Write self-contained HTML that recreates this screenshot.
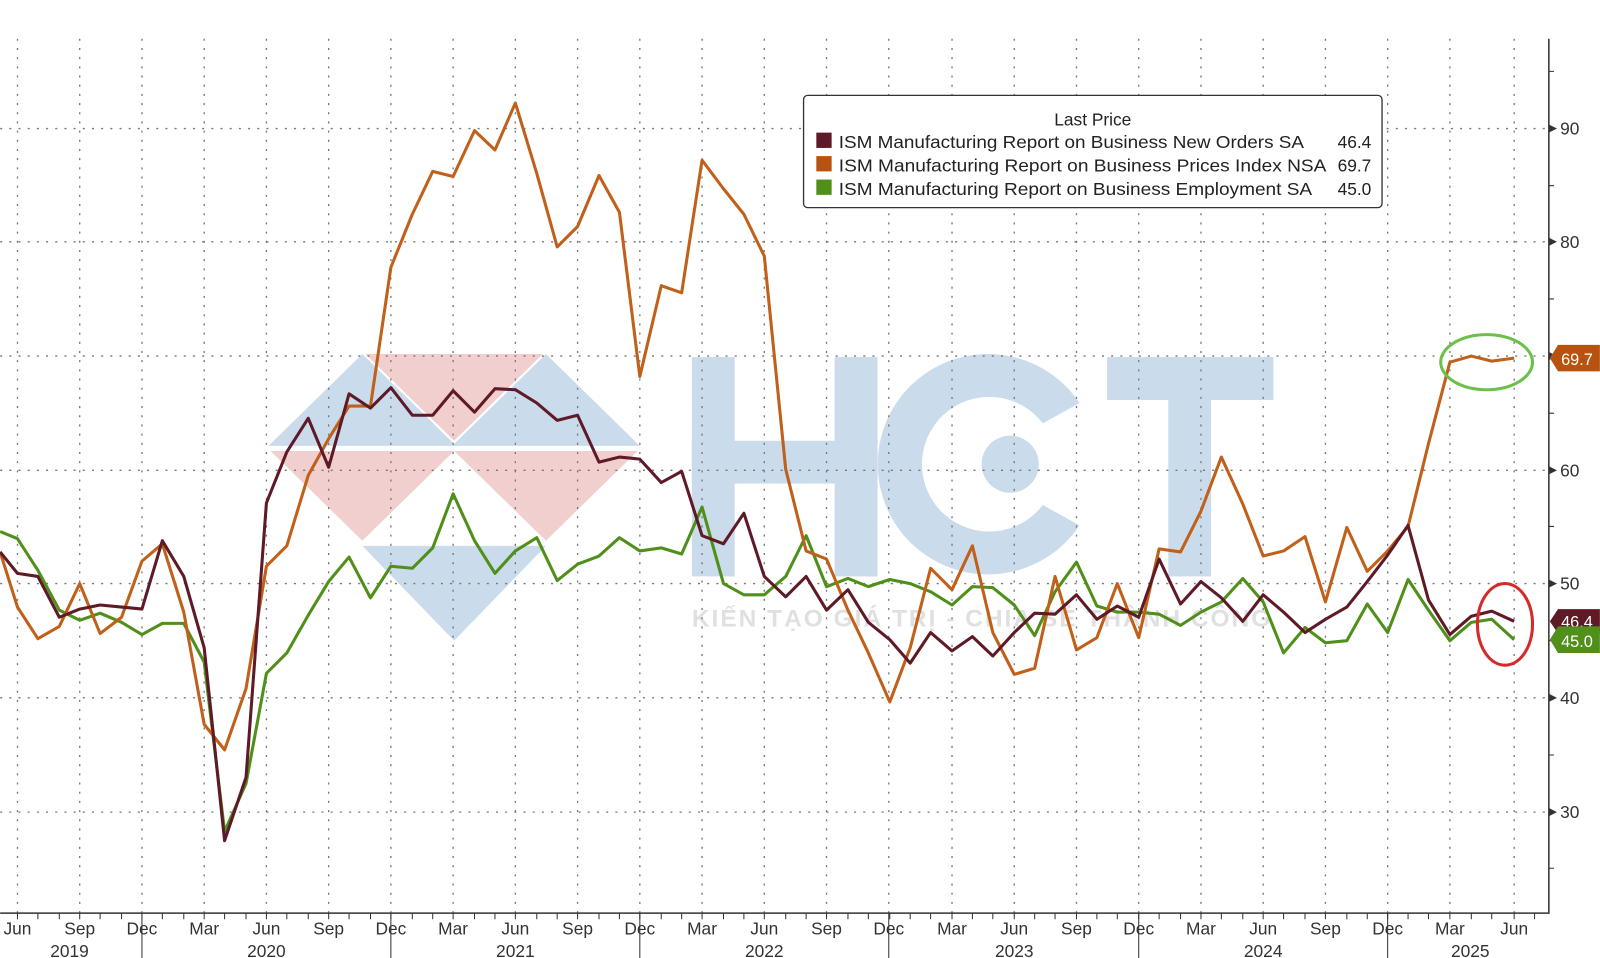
<!DOCTYPE html>
<html><head><meta charset="utf-8"><style>
html,body{margin:0;padding:0;background:#fff;width:1600px;height:958px;overflow:hidden}
svg{display:block}
text{font-family:"Liberation Sans","DejaVu Sans",sans-serif}
</style></head><body>
<svg width="1600" height="958" viewBox="0 0 1568 939" xmlns="http://www.w3.org/2000/svg">
<rect width="1568" height="939" fill="#fff"/>
<!-- watermark -->
<g opacity="0.55">
<polygon points="263,437 355,347 447,437" fill="#9fbedd"/>
<polygon points="443,437 535,347 627,437" fill="#9fbedd"/>
<polygon points="358,347 532,347 445,432" fill="#e9a9a9"/>
<polygon points="265,442 445,442 355,530" fill="#e9a9a9"/>
<polygon points="445,442 625,442 535,530" fill="#e9a9a9"/>
<polygon points="355,535 535,535 445,628" fill="#9fbedd"/>
<g fill="#9fbedd">
<rect x="678" y="350" width="42" height="215"/><rect x="818" y="350" width="42" height="215"/><rect x="678" y="432" width="182" height="42"/>
<path d="M1058,395 A108,108 0 1 0 1058,515 L1022,495 A66,66 0 1 1 1022,415 Z"/>
<circle cx="990" cy="455" r="28"/>
<rect x="1085" y="350" width="163" height="42"/><rect x="1145" y="350" width="42" height="215"/>
</g>
<text x="678" y="614" font-size="24" font-weight="bold" fill="#c8c8c8" textLength="567">KIẾN TẠO GIÁ TRỊ - CHIA SẺ THÀNH CÔNG</text>
</g>
<!-- grid -->
<g stroke="#777" stroke-width="1.3" stroke-dasharray="2,7" fill="none">
<path d="M0,126H1518M0,237H1518M0,349H1518M0,461H1518M0,572H1518M0,684H1518M0,796H1518"/>
<path d="M17,38V895M78,38V895M139,38V895M200,38V895M261,38V895M322,38V895M383,38V895M444,38V895M505,38V895M566,38V895M627,38V895M688,38V895M749,38V895M810,38V895M871,38V895M933,38V895M994,38V895M1055,38V895M1116,38V895M1177,38V895M1238,38V895M1299,38V895M1360,38V895M1421,38V895M1484,38V895"/>
</g>
<!-- axes -->
<g stroke="#333" stroke-width="1.5" fill="none">
<path d="M1518,38V895H0"/>
<path d="M139,895V939M383,895V939M627,895V939M871,895V939M1116,895V939M1360,895V939" stroke-width="1"/>
</g>
<g stroke="#333" stroke-width="1">
<path id="mt" d="M-3,895v6"/>
</g>
<path stroke="#333" stroke-width="1" d="M17,895v6M37,895v6M58,895v6M78,895v6M98,895v6M119,895v6M139,895v6M159,895v6M180,895v6M200,895v6M220,895v6M241,895v6M261,895v6M281,895v6M302,895v6M322,895v6M342,895v6M363,895v6M383,895v6M404,895v6M424,895v6M444,895v6M465,895v6M485,895v6M505,895v6M526,895v6M546,895v6M566,895v6M587,895v6M607,895v6M627,895v6M648,895v6M668,895v6M688,895v6M709,895v6M729,895v6M749,895v6M770,895v6M790,895v6M810,895v6M831,895v6M851,895v6M872,895v6M892,895v6M912,895v6M933,895v6M953,895v6M973,895v6M994,895v6M1014,895v6M1034,895v6M1055,895v6M1075,895v6M1095,895v6M1116,895v6M1136,895v6M1157,895v6M1177,895v6M1197,895v6M1218,895v6M1238,895v6M1258,895v6M1279,895v6M1299,895v6M1320,895v6M1340,895v6M1360,895v6M1380,895v6M1400,895v6M1421,895v6M1442,895v6M1462,895v6M1484,895v6M1504,895v6"/>
<!-- y ticks -->
<g fill="#333">
<polygon points="1518,122 1526,126 1518,130"/><polygon points="1518,233 1526,237 1518,241"/><polygon points="1518,345 1526,349 1518,353"/><polygon points="1518,457 1526,461 1518,465"/><polygon points="1518,568 1526,572 1518,576"/><polygon points="1518,680 1526,684 1518,688"/><polygon points="1518,792 1526,796 1518,800"/>
</g>
<path stroke="#333" stroke-width="1" d="M1518,70h5M1518,182h5M1518,293h5M1518,405h5M1518,516h5M1518,628h5M1518,740h5M1518,851h5"/>
<g font-size="17" fill="#333">
<text x="1529" y="132">90</text><text x="1529" y="243">80</text><text x="1529" y="467">60</text><text x="1529" y="578">50</text><text x="1529" y="690">40</text><text x="1529" y="802">30</text>
</g>
<g font-size="17" fill="#333" text-anchor="middle">
<text x="17" y="916">Jun</text><text x="78" y="916">Sep</text><text x="139" y="916">Dec</text><text x="200" y="916">Mar</text><text x="261" y="916">Jun</text><text x="322" y="916">Sep</text><text x="383" y="916">Dec</text><text x="444" y="916">Mar</text><text x="505" y="916">Jun</text><text x="566" y="916">Sep</text><text x="627" y="916">Dec</text><text x="688" y="916">Mar</text><text x="749" y="916">Jun</text><text x="810" y="916">Sep</text><text x="871" y="916">Dec</text><text x="933" y="916">Mar</text><text x="994" y="916">Jun</text><text x="1055" y="916">Sep</text><text x="1116" y="916">Dec</text><text x="1177" y="916">Mar</text><text x="1238" y="916">Jun</text><text x="1299" y="916">Sep</text><text x="1360" y="916">Dec</text><text x="1421" y="916">Mar</text><text x="1484" y="916">Jun</text>
<text x="68" y="938">2019</text><text x="261" y="938">2020</text><text x="505" y="938">2021</text><text x="749" y="938">2022</text><text x="994" y="938">2023</text><text x="1238" y="938">2024</text><text x="1441" y="938">2025</text>
</g>
<!-- series -->
<g fill="none" stroke-width="3" stroke-linejoin="round">
<polyline stroke="#4f8f1a" points="0,521 17,528 37,559 58,598 78,608 98,601 119,610 139,622 159,611 180,611 200,649 220,815 241,768 261,660 281,640 302,603 322,570 342,546 363,586 383,555 404,557 424,537 444,484 465,530 485,562 505,540 526,527 546,569 566,553 587,545 607,527 627,540 648,537 668,543 688,497 709,572 729,583 749,583 770,565 790,525 810,575 831,567 851,575 872,568 892,572 912,580 933,593 953,575 973,576 994,593 1014,623 1034,580 1055,551 1075,594 1095,600 1116,600 1136,602 1157,613 1177,600 1197,590 1218,567 1238,590 1258,640 1279,615 1299,630 1320,628 1340,592 1360,620 1380,568 1400,598 1421,628 1442,610 1462,607 1484,627"/>
<polyline stroke="#c0601a" points="0,541 17,595 37,626 58,614 78,572 98,621 119,605 139,550 159,533 180,600 200,710 220,735 241,675 261,555 281,535 302,466 322,430 342,398 363,398 383,262 404,210 424,168 444,173 465,128 485,147 505,101 526,170 546,242 566,222 587,172 607,208 627,369 648,280 668,287 688,157 709,185 729,210 749,251 770,460 790,540 810,548 831,598 851,640 872,688 892,635 912,557 933,578 953,535 973,620 994,661 1014,655 1034,565 1055,637 1075,625 1095,572 1116,625 1136,538 1157,541 1177,501 1197,448 1218,494 1238,545 1258,540 1279,526 1299,590 1320,517 1340,560 1360,540 1380,516 1400,435 1421,355 1442,349 1462,354 1484,351"/>
<polyline stroke="#5e1a26" points="0,541 17,562 37,565 58,605 78,597 98,593 119,595 139,597 159,530 180,565 200,635 220,824 241,762 261,493 281,443 302,410 322,458 342,386 363,400 383,380 404,407 424,407 444,383 465,404 485,381 505,382 526,395 546,412 566,407 587,453 607,448 627,450 648,473 668,462 688,525 709,533 729,503 749,565 770,585 790,565 810,598 831,578 851,610 872,627 892,650 912,620 933,638 953,624 973,643 994,620 1014,601 1034,602 1055,583 1075,607 1095,594 1116,605 1136,548 1157,592 1177,570 1197,586 1218,609 1238,583 1258,600 1279,620 1299,607 1320,595 1340,570 1360,544 1380,515 1400,588 1421,622 1442,604 1462,599 1484,609"/>
</g>
<!-- ellipses -->
<ellipse cx="1457" cy="355" rx="45" ry="27" fill="none" stroke="#6cc04a" stroke-width="3"/>
<ellipse cx="1475" cy="612" rx="27" ry="40" fill="none" stroke="#d42a2a" stroke-width="3"/>
<!-- value tags -->
<polygon points="1519,351 1527,338 1568,338 1568,364 1527,364" fill="#b8520f"/>
<text x="1530" y="358" font-size="16" fill="#fff">69.7</text>
<polygon points="1519,609 1527,597 1568,597 1568,621 1527,621" fill="#5e1a26"/>
<text x="1530" y="615" font-size="16" fill="#fff">46.4</text>
<polygon points="1519,627 1527,614 1568,614 1568,640 1527,640" fill="#4f8f1a"/>
<text x="1530" y="634" font-size="16" fill="#fff">45.0</text>
<!-- legend -->
<rect x="787.5" y="93.5" width="567" height="110" rx="4" fill="#fff" stroke="#333" stroke-width="1.3"/>
<text x="1071" y="123" font-size="17" fill="#222" text-anchor="middle">Last Price</text>
<rect x="800" y="130" width="15" height="15" fill="#5e1a26"/>
<rect x="800" y="153" width="15" height="15" fill="#b8520f"/>
<rect x="800" y="176" width="15" height="15" fill="#4f8f1a"/>
<g font-size="17" fill="#222">
<text x="822" y="145" textLength="456" lengthAdjust="spacingAndGlyphs">ISM Manufacturing Report on Business New Orders SA</text>
<text x="822" y="168" textLength="478" lengthAdjust="spacingAndGlyphs">ISM Manufacturing Report on Business Prices Index NSA</text>
<text x="822" y="191" textLength="464" lengthAdjust="spacingAndGlyphs">ISM Manufacturing Report on Business Employment SA</text>
<text x="1344" y="145" text-anchor="end">46.4</text>
<text x="1344" y="168" text-anchor="end">69.7</text>
<text x="1344" y="191" text-anchor="end">45.0</text>
</g>
</svg>
</body></html>
